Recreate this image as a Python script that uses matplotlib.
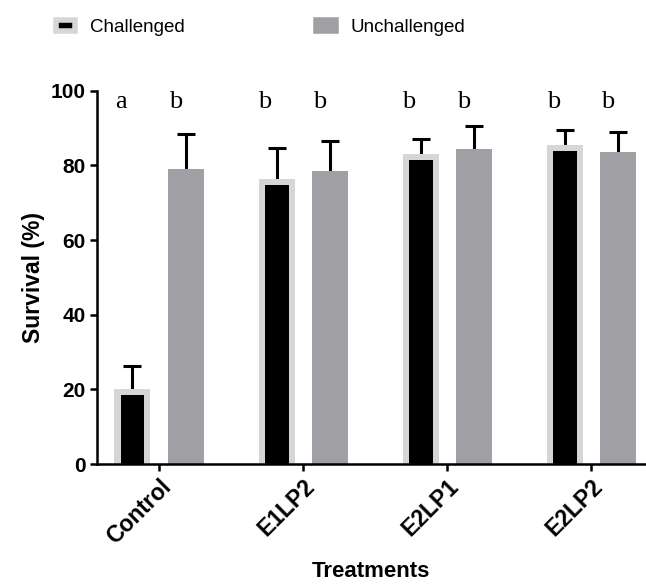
import numpy as np
import matplotlib
matplotlib.use("Agg")
import matplotlib.pyplot as plt
from matplotlib.patches import Patch

# datos
tratamientos = ["Control", "E1LP2", "E2LP1", "E2LP2"]
challenged = [20.1, 76.5, 83.1, 85.5]
challenged_err = [6.2, 8.1, 4.0, 4.0]
unchallenged = [79.1, 78.5, 84.5, 83.6]
unchallenged_err = [9.4, 8.0, 6.1, 5.4]
letras_ch = ["a", "b", "b", "b"]
letras_unch = ["b", "b", "b", "b"]

NEGRO = "black"
GRIS_CLARO = "#d6d6d6"
GRIS = "#a09fa4"

plt.rcParams["font.family"] = ["Liberation Sans", "DejaVu Sans"]

fig = plt.figure(figsize=(6.46, 5.86), dpi=100)
ax = fig.add_axes([0.150, 0.208, 0.848, 0.637])

x = np.arange(len(tratamientos))
ancho = 0.25
ancho_int = 0.166
off = 0.185
borde = 1.6  # grosor del borde gris en unidades de datos

ch = np.array(challenged)
unch = np.array(unchallenged)

# barras challenged: gris claro por fuera, negro por dentro
ax.bar(x - off, ch, ancho, color=GRIS_CLARO, linewidth=0, zorder=2)
ax.bar(x - off, ch - borde, ancho_int, color=NEGRO, linewidth=0, zorder=2)

ax.bar(x + off, unch, ancho, color=GRIS, linewidth=0, zorder=2)


def error_arriba(xs, vals, errs):
    _, caps, _ = ax.errorbar(xs, vals, yerr=[np.zeros(len(vals)), errs], fmt="none",
                             ecolor="black", elinewidth=2.2, capsize=6.5,
                             capthick=2.2, zorder=1)
    # quitar el cap de abajo
    for c in caps:
        if np.allclose(c.get_ydata(), vals):
            c.set_visible(False)


error_arriba(x - off, ch, challenged_err)
error_arriba(x + off, unch, unchallenged_err)

# letras de significancia
for i in range(len(tratamientos)):
    ax.text(x[i] - off - 0.08, 95.4, letras_ch[i], ha="center", va="baseline",
            fontsize=19, family="Liberation Serif")
    ax.text(x[i] + off - 0.07, 95.4, letras_unch[i], ha="center", va="baseline",
            fontsize=19, family="Liberation Serif")

ax.set_xlim(-0.432, 3.37)
ax.set_ylim(0, 100)
ax.set_yticks([0, 20, 40, 60, 80, 100])
ax.set_xticks(x)
ax.set_xticklabels(tratamientos, rotation=45, ha="right", rotation_mode="anchor")

for lab in ax.get_yticklabels():
    lab.set_fontweight("bold")
    lab.set_fontsize(15)
for lab in ax.get_xticklabels():
    lab.set_fontweight("bold")
    lab.set_fontsize(16.5)

ax.spines["top"].set_visible(False)
ax.spines["right"].set_visible(False)
ax.spines["left"].set_linewidth(1.8)
ax.spines["bottom"].set_linewidth(1.8)
ax.tick_params(axis="both", width=1.8, length=5, pad=3)

ax.set_ylabel("Survival (%)", fontsize=16.5, fontweight="bold", labelpad=4)
ax.set_xlabel("Treatments", fontsize=16, fontweight="bold", labelpad=9)

# leyenda arriba
handles = [
    Patch(facecolor=NEGRO, edgecolor=GRIS_CLARO, linewidth=4),
    Patch(facecolor=GRIS, edgecolor=GRIS, linewidth=4),
]
fig.legend(handles, ["Challenged", "Unchallenged"], loc="upper left",
           bbox_to_anchor=(0.06, 0.996), ncol=2, frameon=False, fontsize=13.5,
           handlelength=1.04, handleheight=0.5, handletextpad=0.8,
           columnspacing=7.0)

fig.savefig("out.png", dpi=100)
